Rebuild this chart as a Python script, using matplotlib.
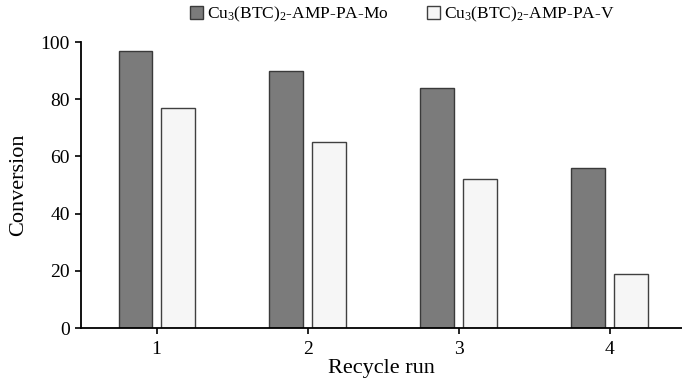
import matplotlib.pyplot as plt
import numpy as np

runs = ["1", "2", "3", "4"]
mo_conv = [97, 90, 84, 56]
v_conv = [77, 65, 52, 19]
mo_label = r"Cu$_3$(BTC)$_2$-AMP-PA-Mo"
v_label = r"Cu$_3$(BTC)$_2$-AMP-PA-V"

plt.rcParams["font.family"] = ["Liberation Serif", "DejaVu Serif"]
plt.rcParams["mathtext.fontset"] = "custom"
plt.rcParams["mathtext.rm"] = "Liberation Serif"
plt.rcParams["mathtext.it"] = "Liberation Serif:italic"

fig = plt.figure(figsize=(6.82, 3.82), dpi=100)
ax = fig.add_axes([0.119, 0.141, 0.881, 0.749])

x = np.arange(1, len(runs) + 1)
width = 0.225
offset = 0.14
ax.bar(x - offset, mo_conv, width=width, color="#7b7b7b", edgecolor="#3a3a3a",
       linewidth=1.0, label=mo_label)
ax.bar(x + offset, v_conv, width=width, color="#f6f6f6", edgecolor="#404040",
       linewidth=1.0, label=v_label)

ax.set_xlim(0.5, 4.48)
ax.set_ylim(0, 100)
ax.set_yticks(range(0, 101, 20))
ax.set_xticks(x)
ax.set_xticklabels(runs)
ax.tick_params(axis="both", direction="out", labelsize=14, length=4, width=1.2)
ax.tick_params(axis="x", pad=5)
ax.tick_params(axis="y", pad=4)
ax.spines["top"].set_visible(False)
ax.spines["right"].set_visible(False)
ax.spines["left"].set_linewidth(1.3)
ax.spines["bottom"].set_linewidth(1.3)

ax.set_ylabel("Conversion", fontsize=16, labelpad=9)
ax.set_xlabel("Recycle run", fontsize=16, labelpad=1)

fig.legend(loc="center", bbox_to_anchor=(0.59, 0.962), ncol=2, frameon=False,
           fontsize=12.5, handlelength=0.75, handleheight=0.75, handletextpad=0.25,
           columnspacing=2.2)

fig.savefig("out.png", dpi=100)
